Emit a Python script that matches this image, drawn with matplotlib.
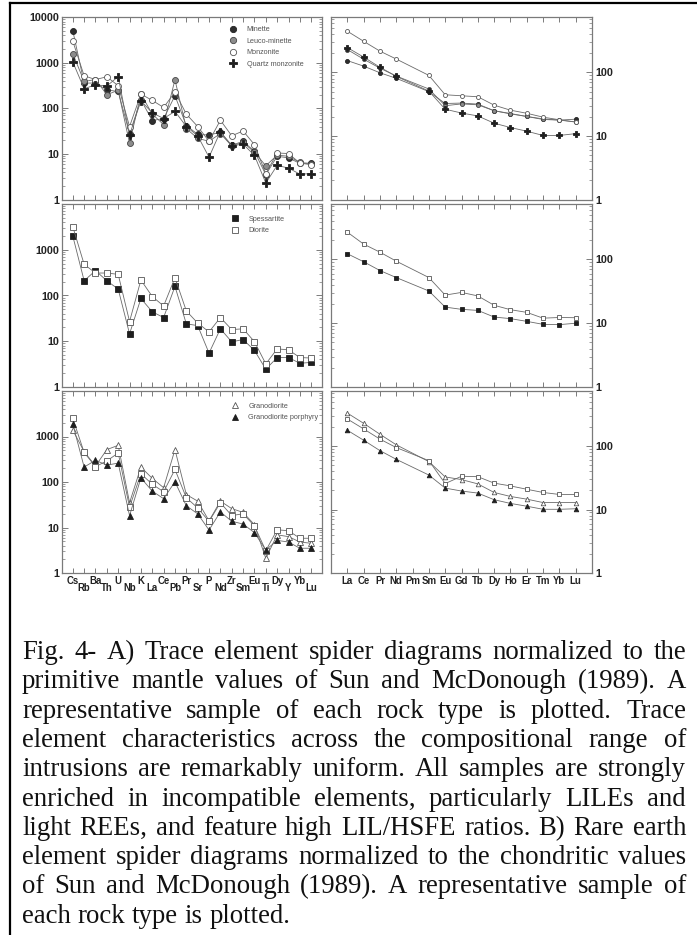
import matplotlib
matplotlib.use("Agg")
import matplotlib.pyplot as plt
from matplotlib.lines import Line2D
from matplotlib.ticker import FixedLocator, FixedFormatter, LogLocator, NullFormatter
import numpy as np

# ---------------- data ----------------
trace_elements = ['Cs', 'Rb', 'Ba', 'Th', 'U', 'Nb', 'K', 'La', 'Ce', 'Pb', 'Pr',
                  'Sr', 'P', 'Nd', 'Zr', 'Sm', 'Eu', 'Ti', 'Dy', 'Y', 'Yb', 'Lu']
ree_elements = ['La', 'Ce', 'Pr', 'Nd', 'Pm', 'Sm', 'Eu', 'Gd', 'Tb', 'Dy', 'Ho',
                'Er', 'Tm', 'Yb', 'Lu']

# Panel A (primitive-mantle normalised)
minette_tr = [5100, 360, 360, 255, 235, 28, 155, 54, 60, 190, 42, 27, 26, 30, 15.5, 19, 11.4, 3.5, 8.9, 8.2, 6.2, 6.3]
leuco_tr = [1600, 390, 430, 200, 250, 17, 206, 75, 44, 425, 36, 22, 19, 28, 15, 18, 10.9, 5.5, 9.4, 8.9, 6.5, 6.1]
monzonite_tr = [3000, 520, 430, 495, 315, 40, 206, 150, 105, 228, 75, 40, 19, 55, 25, 32, 16, 3.7, 10.5, 10.2, 6.3, 5.8]
qmonz_tr = [1050, 270, 330, 310, 500, 26, 147, 80, 60, 86, 40, 25, 8.5, 31, 15, 16.5, 9.3, 2.3, 5.6, 4.9, 3.6, 3.7]

spess_tr = [2000, 210, 350, 210, 138, 14.5, 86, 44, 33, 158, 24, 22, 5.5, 18.7, 9.7, 10.9, 6.3, 2.45, 4.4, 4.4, 3.3, 3.45]
diorite_tr = [3200, 480, 310, 310, 290, 27, 218, 95, 59, 245, 46, 25, 16, 33, 18, 18.7, 9.8, 3.2, 6.8, 6.5, 4.4, 4.3]

grano_tr = [1380, 465, 225, 515, 640, 35, 213, 120, 75, 515, 53, 38, 14, 38, 26, 21.5, 11.5, 2.1, 6.9, 6.3, 4.8, 4.5]
grano_sq_tr = [2500, 445, 218, 290, 435, 28, 152, 89, 61, 189, 45, 27, 13.6, 35, 18.3, 20, 10.8, 3.1, 8.9, 8.5, 5.8, 5.8]
granopor_tr = [1880, 213, 300, 235, 260, 18.2, 123, 63, 43, 101, 30, 20, 8.8, 22, 13.7, 11.9, 7.7, 3.2, 5.2, 4.8, 3.5, 3.5]

# Panel B (chondrite normalised); None = not analysed (Pm)
minette_ree = [154, 126, 99, 81, None, 50, 32.5, 33, 31.8, 25, 22.3, 20.3, 18.2, 17.8, 18.4]
leuco_ree = [230, 162, 117, 88, None, 55, 30, 32, 31, 25, 22.6, 20.3, 18.6, 17.8, 16.6]
monzonite_ree = [447, 310, 217, 163, None, 90, 44.6, 43, 41.5, 30.6, 25.5, 22.8, 19.8, 18, 16.6]
qmonz_ree = [247, 175, 121, 87, None, 51, 26.4, 23, 20.7, 15.9, 13.6, 11.9, 10.2, 10.2, 10.9]

spess_ree = [123, 92, 67, 52, None, 32, 17.9, 16.5, 15.9, 12.5, 11.8, 10.7, 9.6, 9.5, 10.0]
diorite_ree = [268, 174, 130, 94, None, 52, 27.6, 30.4, 26.8, 19.1, 16.3, 14.8, 12.0, 12.3, 12.2]

grano_ree = [332, 229, 154, 105, None, 57, 32.7, 29.7, 25.4, 18.6, 16.1, 14.6, 12.9, 12.9, 12.9]
grano_sq_ree = [268, 187, 129, 95, None, 59, 25.7, 33.5, 33, 26.1, 23.6, 20.9, 18.6, 17.3, 17.3]
granopor_ree = [178, 124, 85, 62, None, 35, 21.8, 19.6, 18.2, 14.3, 12.5, 11.3, 10.1, 10.1, 10.3]

caption_lines = [
    "Fig. 4- A) Trace element spider diagrams normalized to the",
    "primitive mantle values of Sun and McDonough (1989). A",
    "representative sample of each rock type is plotted. Trace",
    "element characteristics across the compositional range of",
    "intrusions are remarkably uniform. All samples are strongly",
    "enriched in incompatible elements, particularly LILEs and",
    "light REEs, and feature high LIL/HSFE ratios. B) Rare earth",
    "element spider diagrams normalized to the chondritic values",
    "of Sun and McDonough (1989). A representative sample of",
    "each rock type is plotted.",
]

# ---------------- styles ----------------
LINE_C = '#6a6a6a'
SANS = 'Liberation Sans'
styles = {
    'Minette': dict(marker='o', mfc='#2e2e2e', mec='#222222'),
    'Leuco-minette': dict(marker='o', mfc='#8c8c8c', mec='#444444'),
    'Monzonite': dict(marker='o', mfc='white', mec='#555555'),
    'Quartz monzonite': dict(marker='P', mfc='#1e1e1e', mec='#1e1e1e'),
    'Spessartite': dict(marker='s', mfc='#1e1e1e', mec='#1e1e1e'),
    'Diorite': dict(marker='s', mfc='white', mec='#555555'),
    'Granodiorite': dict(marker='^', mfc='white', mec='#555555'),
    'Granodiorite porphyry': dict(marker='^', mfc='#1e1e1e', mec='#1e1e1e'),
    'sq': dict(marker='s', mfc='white', mec='#555555'),
}
ms_left = {'o': 4.3, 'P': 5.1, 's': 3.7, '^': 4.1}
ms_right = {'o': 2.9, 'P': 3.8, 's': 3.0, '^': 3.3}

W, H = 697, 935
fig = plt.figure(figsize=(W / 100, H / 100), dpi=100)
fig.patch.set_facecolor('white')


def px_axes(x0, y0, x1, y1):
    ax = fig.add_axes([x0 / W, 1 - y1 / H, (x1 - x0) / W, (y1 - y0) / H])
    ax.set_yscale('log')
    return ax


rows = [(17.3, 199.5), (204, 387), (391, 573)]
axL = [px_axes(62, r[0], 322, r[1]) for r in rows]
axR = [px_axes(331, r[0], 592, r[1]) for r in rows]


def style_common(ax):
    for s in ax.spines.values():
        s.set_color('#7a7a7a')
        s.set_linewidth(0.9)
    ax.tick_params(axis='x', which='major', direction='in', top=True, bottom=True,
                   length=3.6, width=0.6, color='#666666', labelbottom=False)
    ax.tick_params(axis='x', which='minor', bottom=False, top=False)
    ax.tick_params(axis='y', which='major', direction='in', left=True, right=True,
                   length=4.5, width=0.6, color='#666666',
                   labelsize=7.8, labelcolor='#222222', pad=2)
    ax.tick_params(axis='y', which='minor', direction='in', left=True, right=True,
                   length=2.4, width=0.5, color='#777777')
    ax.yaxis.set_minor_locator(LogLocator(base=10, subs=np.arange(2, 10)))
    ax.yaxis.set_minor_formatter(NullFormatter())


def plot_series(ax, cats, vals, key, msz):
    st = styles[key]
    x = [i for i, v in enumerate(vals) if v is not None]
    y = [v for v in vals if v is not None]
    ax.plot(x, y, color=LINE_C, lw=0.6, marker=st['marker'], mfc=st['mfc'],
            mec=st['mec'], mew=0.6, ms=msz[st['marker']], zorder=3)


left_sets = [
    [(minette_tr, 'Minette'), (leuco_tr, 'Leuco-minette'), (monzonite_tr, 'Monzonite'), (qmonz_tr, 'Quartz monzonite')],
    [(spess_tr, 'Spessartite'), (diorite_tr, 'Diorite')],
    [(grano_tr, 'Granodiorite'), (grano_sq_tr, 'sq'), (granopor_tr, 'Granodiorite porphyry')],
]
right_sets = [
    [(minette_ree, 'Minette'), (leuco_ree, 'Leuco-minette'), (monzonite_ree, 'Monzonite'), (qmonz_ree, 'Quartz monzonite')],
    [(spess_ree, 'Spessartite'), (diorite_ree, 'Diorite')],
    [(grano_ree, 'Granodiorite'), (grano_sq_ree, 'sq'), (granopor_ree, 'Granodiorite porphyry')],
]
legend_keys = [
    ['Minette', 'Leuco-minette', 'Monzonite', 'Quartz monzonite'],
    ['Spessartite', 'Diorite'],
    ['Granodiorite', 'Granodiorite porphyry'],
]
legend_tops = [0.951, 0.935, 0.935]
legend_lefts = [0.645, 0.652, 0.652]

for i, ax in enumerate(axL):
    for vals, key in left_sets[i]:
        plot_series(ax, trace_elements, vals, key, ms_left)
    ax.set_xlim(-0.95, len(trace_elements) - 0.05)
    ax.set_ylim(1, 1e4)
    ax.set_xticks(range(len(trace_elements)))
    style_common(ax)
    ax.yaxis.set_major_locator(FixedLocator([1, 10, 100, 1000, 10000]))
    labs = ['1', '10', '100', '1000', '10000'] if i == 0 else ['1', '10', '100', '1000', '']
    ax.yaxis.set_major_formatter(FixedFormatter(labs))
    handles = []
    for k in legend_keys[i]:
        st = styles[k]
        handles.append(Line2D([], [], ls='none', marker=st['marker'], mfc=st['mfc'],
                              mec=st['mec'], mew=0.6, ms=ms_left[st['marker']] * 1.05))
    leg = ax.legend(handles, legend_keys[i], loc='upper left',
                    bbox_to_anchor=(legend_lefts[i], legend_tops[i]),
                    frameon=False, handlelength=1.0,
                    handletextpad=1.35, labelspacing=0.62, borderpad=0,
                    borderaxespad=0, prop={'family': SANS, 'size': 5.2})
    for t in leg.get_texts():
        t.set_color('#555555')

for i, ax in enumerate(axR):
    for vals, key in right_sets[i]:
        plot_series(ax, ree_elements, vals, key, ms_right)
    ax.set_xlim(-1, len(ree_elements))
    ax.set_ylim(1, 740)
    ax.set_xticks(range(len(ree_elements)))
    style_common(ax)
    ax.yaxis.set_major_locator(FixedLocator([1, 10, 100]))
    ax.yaxis.set_major_formatter(FixedFormatter(['1', '10', '100']))
    ax.tick_params(axis='y', which='major', labelleft=False, labelright=True, pad=2.5)

for ax in axL + axR:
    ax.tick_params(axis='x', which='minor', bottom=False, top=False)
    for lab in ax.get_yticklabels():
        lab.set_fontweight('bold')
        lab.set_family(SANS)

# x tick labels (staggered on trace panel)
axb = axL[2]
for j, el in enumerate(trace_elements):
    off = -5.6 if j % 2 == 0 else -10.9
    axb.annotate(el, xy=(j, 0), xycoords=('data', 'axes fraction'),
                 xytext=(0, off), textcoords='offset points', ha='center', va='center',
                 fontsize=6.9, fontweight='bold', family=SANS, color='#222222',
                 annotation_clip=False)
axrb = axR[2]
for j, el in enumerate(ree_elements):
    axrb.annotate(el, xy=(j, 0), xycoords=('data', 'axes fraction'),
                  xytext=(0, -5.8), textcoords='offset points', ha='center', va='center',
                  fontsize=6.9, fontweight='bold', family=SANS, color='#222222',
                  annotation_clip=False)

# border of the figure box
fig.add_artist(Line2D([10 / W, 10 / W], [0, 1 - 3 / H], transform=fig.transFigure,
                      color='black', lw=1.6))
fig.add_artist(Line2D([10 / W, 1], [1 - 3 / H, 1 - 3 / H], transform=fig.transFigure,
                      color='black', lw=1.6))

# justified caption
renderer = fig.canvas.get_renderer()
x_left, x_right = 22, 686
base0, pitch = 659, 29.3
cap_fs = 19.3
for i, line in enumerate(caption_lines):
    words = line.split()
    yb = 1 - (base0 + pitch * i) / H
    texts = [fig.text(0, yb, w, fontsize=cap_fs, family='Liberation Serif',
                      va='baseline', ha='left', color='#111111') for w in words]
    widths = [t.get_window_extent(renderer).width for t in texts]
    if i == len(caption_lines) - 1 or len(words) == 1:
        gap = cap_fs * 100 / 72 * 0.25
    else:
        gap = (x_right - x_left - sum(widths)) / (len(words) - 1)
    x = x_left
    for t, w in zip(texts, widths):
        t.set_x(x / W)
        x += w + gap

fig.savefig('out.png', dpi=100, facecolor='white')
